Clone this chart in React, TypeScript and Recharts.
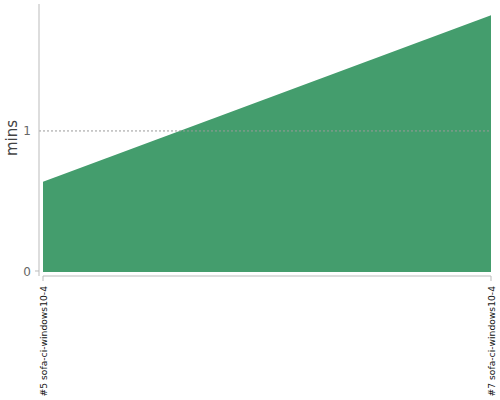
import { AreaChart, Area, XAxis, YAxis, ReferenceLine } from "recharts";

const builds = ["#5 sofa-ci-windows10-4", "#7 sofa-ci-windows10-4"];
const durations = [0.64, 1.82];
const yTicks = [0, 1];

const data = builds.map((name, i) => ({ name, mins: durations[i] }));

const FONT = "DejaVu Sans, sans-serif";

function YTick(props: any) {
  const { x, y, payload } = props;
  return (
    <g>
      {payload.value === 0 && <line x1={x + 4} x2={x + 8} y1={y - 1} y2={y - 1} stroke="#bbb" />}
      <text x={x} y={y} textAnchor="end" dominantBaseline="central" fill="#666" fontSize={12} fontFamily={FONT}>
        {payload.value}
      </text>
    </g>
  );
}

function XTick(props: any) {
  const { x, y, payload } = props;
  const ty = y + 3;
  return (
    <text
      x={x}
      y={ty}
      transform={`rotate(-90, ${x}, ${ty})`}
      textAnchor="end"
      dominantBaseline="central"
      fill="#111"
      fontSize={9.2}
      fontFamily={FONT}
    >
      {payload.value}
    </text>
  );
}

export default function App() {
  return (
    <div style={{ position: "absolute", left: 0, top: 0, width: 500, height: 400, background: "#fff" }}>
      <AreaChart width={500} height={400} data={data} margin={{ top: 4, right: 9, left: 0, bottom: 0 }}>
        <XAxis
          dataKey="name"
          height={124}
          padding={{ left: 4, right: 0 }}
          axisLine={false}
          tickLine={{ stroke: "#bbb" }}
          tickSize={5}
          interval={0}
          tick={<XTick />}
        />
        <YAxis
          width={39}
          domain={[-0.0284, 1.9]}
          allowDataOverflow
          ticks={yTicks}
          axisLine={{ stroke: "#bbb" }}
          tickLine={false}
          tick={<YTick />}
          label={{
            content: () => (
              <text
                x={12}
                y={138}
                transform="rotate(-90, 12, 138)"
                textAnchor="middle"
                dominantBaseline="central"
                fill="#444"
                fontSize={15}
                fontFamily={FONT}
              >
                mins
              </text>
            ),
          }}
        />
        <Area
          type="linear"
          dataKey="mins"
          baseValue={0}
          stroke="none"
          fill="#449d6d"
          fillOpacity={1}
          isAnimationActive={false}
        />
        <ReferenceLine y={1} stroke="#999" strokeDasharray="2 2" />
        <ReferenceLine
          segment={[
            { x: builds[0], y: -0.0284 },
            { x: builds[1], y: -0.0284 },
          ]}
          stroke="#bbb"
          ifOverflow="visible"
        />
      </AreaChart>
    </div>
  );
}
